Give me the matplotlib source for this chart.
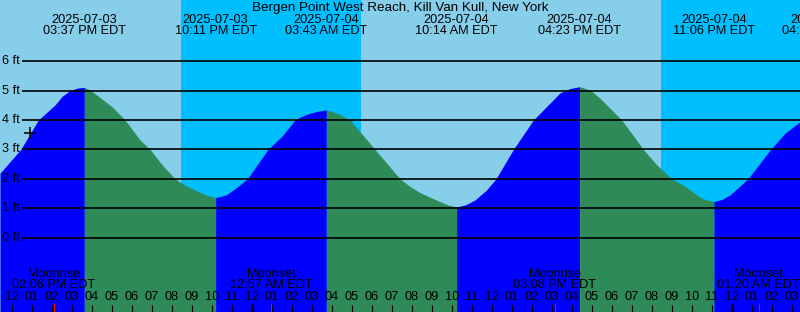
import matplotlib
matplotlib.use('Agg')
import matplotlib.pyplot as plt
import numpy as np
from datetime import datetime, timedelta

plt.rcParams['font.family'] = ['Liberation Sans', 'DejaVu Sans']

###############
# Chart data  #
###############
title = 'Bergen Point West Reach, Kill Van Kull, New York'
start = datetime(2025, 7, 3, 12, 0)   # left hour tick "12"

# tide events (high / low)
tide_dates = ['2025-07-03', '2025-07-03', '2025-07-04', '2025-07-04',
              '2025-07-04', '2025-07-04', '2025-07-05']
tide_times = ['03:37 PM', '10:11 PM', '03:43 AM', '10:14 AM',
              '04:23 PM', '11:06 PM', '04:33 AM']
tide_kind = ['high', 'low', 'high', 'low', 'high', 'low', 'high']

# tide curve (hours after start, feet)
curve_hours = [-0.6, 0.44, 1.32, 2.15, 2.5, 2.9, 3.25, 3.617, 3.9, 4.35,
               5.0, 5.65, 6.4, 6.9, 7.5, 8.15, 8.6, 9.15, 9.7, 10.183, 10.7,
               11.15, 11.77, 12.8, 13.5, 14.15, 14.5, 14.9, 15.3, 15.717,
               16.05, 16.4, 16.9, 18.15, 19.4, 19.9, 20.4, 21.4, 21.85,
               22.233, 22.7, 23.15, 23.7, 24.2, 25.07, 26.07, 26.65, 27.4,
               27.9, 28.383, 28.9, 29.4, 30.48, 31.57, 32.2, 32.98, 33.65,
               34.4, 34.75, 35.1, 35.5, 35.9, 36.8, 37.93, 38.65, 39.4]
curve_ft = [2.19, 3.0, 4.0, 4.51, 4.8, 5.0, 5.08, 5.11, 5.02, 4.79,
            4.45, 4.0, 3.32, 3.0, 2.48, 2.0, 1.8, 1.62, 1.45, 1.36, 1.45,
            1.66, 2.0, 3.0, 3.45, 4.0, 4.13, 4.23, 4.3, 4.34,
            4.28, 4.18, 4.0, 3.0, 2.0, 1.74, 1.53, 1.22, 1.1,
            1.04, 1.12, 1.28, 1.6, 2.0, 3.0, 4.0, 4.4, 4.92,
            5.07, 5.13, 5.02, 4.74, 4.0, 3.0, 2.5, 2.0, 1.75,
            1.37, 1.28, 1.23, 1.3, 1.45, 2.0, 3.0, 3.55, 3.94]

# moon events
moon_names = ['Moonrise', 'Moonset', 'Moonrise', 'Moonset']
moon_dates = ['2025-07-03', '2025-07-04', '2025-07-04', '2025-07-05']
moon_times = ['02:06 PM', '12:57 AM', '03:08 PM', '01:20 AM']

# night periods (sunset, sunrise)
sunsets = ['2025-07-03 08:27 PM', '2025-07-04 08:27 PM']
sunrises = ['2025-07-04 05:27 AM', '2025-07-05 05:28 AM']

ft_levels = [0, 1, 2, 3, 4, 5, 6]
marker_hour = 0.9
marker_ft = 3.55


def hrs(s):
    return (datetime.strptime(s, '%Y-%m-%d %I:%M %p') - start).total_seconds() / 3600.


W, H = 800, 312
fig = plt.figure(figsize=(W / 100, H / 100), dpi=100)
ax = fig.add_axes([0, 0, 1, 1])
ax.set_xlim(-0.6, 39.4)
ax.set_ylim(-2.53, 8.08)
ax.axis('off')

day_col = '#87CEEB'
night_col = '#00BFFF'
flood_col = '#0000FF'
ebb_col = '#2E8B57'

ax.axvspan(-1, 41, color=day_col, lw=0, zorder=0)
for s, r in zip(sunsets, sunrises):
    ax.axvspan(hrs(s), hrs(r), color=night_col, lw=0, zorder=1)

# tide fill: flood (rising) blue, ebb (falling) green
h = np.array(curve_hours)
y = np.array(curve_ft)
ev_hours = [hrs(d + ' ' + t) for d, t in zip(tide_dates, tide_times)]
bounds = [h[0]] + [e for e in ev_hours if e < h[-1]] + [h[-1]]
for i in range(len(bounds) - 1):
    a, b = bounds[i], bounds[i + 1]
    kind = tide_kind[i] if i < len(tide_kind) else 'high'
    col = flood_col if kind == 'high' else ebb_col
    m = (h >= a - 0.02) & (h <= b + 0.02)
    ax.fill_between(h[m], y[m], -3, color=col, lw=0, zorder=2)

# level lines
for lv in ft_levels:
    ax.hlines(lv, 0.5, 39.4, color='black', lw=1.2, zorder=3)
    ax.text(-0.48, lv, '%d ft' % lv, ha='left', va='center', fontsize=9.2, zorder=4)

ax.plot([marker_hour], [marker_ft], marker='+', color='black', ms=9, mew=1.1, zorder=4)

tr = ax.get_xaxis_transform()


def fy(py):
    return 1 - py / H


ax.text(0.5, fy(8), title, transform=ax.transAxes, ha='center', va='center', fontsize=9.6)
for e, d, t in zip(ev_hours, tide_dates, tide_times):
    ax.text(e, fy(20), d, transform=tr, ha='center', va='center', fontsize=9.2)
    ax.text(e, fy(31.5), t + ' EDT', transform=tr, ha='center', va='center', fontsize=9.2)

# hour ticks
for k in range(0, 40):
    t = start + timedelta(hours=k)
    ax.text(k, fy(297.5), t.strftime('%I'), transform=tr, ha='center', va='center', fontsize=9.2)
    if t.hour == 0:
        ax.vlines(k, fy(312), fy(304), transform=tr, color='black', lw=2.2)
    else:
        ax.vlines(k, fy(312), fy(305), transform=tr, color='black', lw=0.8)

for n, d, t in zip(moon_names, moon_dates, moon_times):
    mh = hrs(d + ' ' + t)
    ax.vlines(mh, fy(312), fy(303), transform=tr, color='red', lw=0.8)
    ax.text(mh, fy(274), n, transform=tr, ha='center', va='center', fontsize=9.2)
    ax.text(mh, fy(285), t + ' EDT', transform=tr, ha='center', va='center', fontsize=9.2)

plt.savefig('out.png', dpi=100)
